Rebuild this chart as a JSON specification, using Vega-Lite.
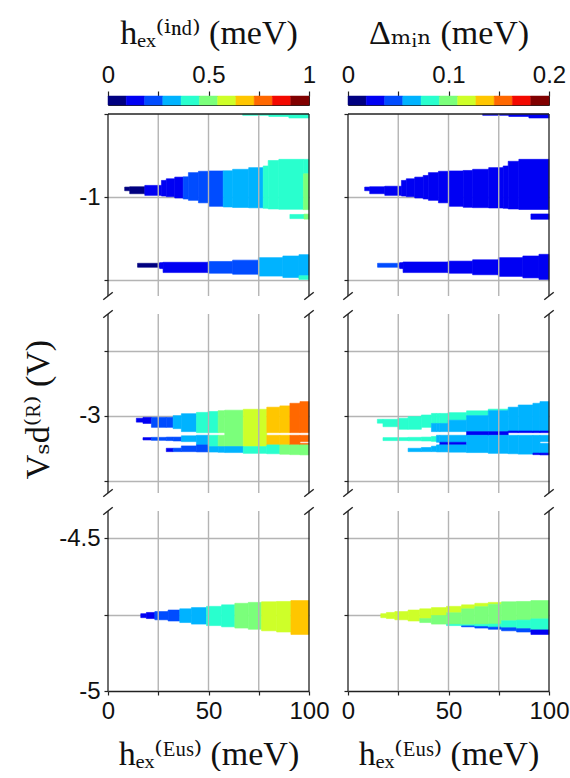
{
  "$schema": "https://vega.github.io/schema/vega-lite/v6.json",
  "background": "white",
  "padding": {"left": 20, "top": 15, "right": 5, "bottom": 0},
  "datasets": {
    "cbl": [
      {"lo": 0, "hi": 0.0909, "v": 0.045}, {"lo": 0.0909, "hi": 0.1818, "v": 0.136}, {"lo": 0.1818, "hi": 0.2727, "v": 0.227},
      {"lo": 0.2727, "hi": 0.3636, "v": 0.318}, {"lo": 0.3636, "hi": 0.4545, "v": 0.409}, {"lo": 0.4545, "hi": 0.5455, "v": 0.5},
      {"lo": 0.5455, "hi": 0.6364, "v": 0.591}, {"lo": 0.6364, "hi": 0.7273, "v": 0.682}, {"lo": 0.7273, "hi": 0.8182, "v": 0.773},
      {"lo": 0.8182, "hi": 0.9091, "v": 0.864}, {"lo": 0.9091, "hi": 1, "v": 0.955}
    ],
    "cbr": [
      {"lo": 0, "hi": 0.0182, "v": 0.009}, {"lo": 0.0182, "hi": 0.0364, "v": 0.027}, {"lo": 0.0364, "hi": 0.0545, "v": 0.045},
      {"lo": 0.0545, "hi": 0.0727, "v": 0.064}, {"lo": 0.0727, "hi": 0.0909, "v": 0.082}, {"lo": 0.0909, "hi": 0.1091, "v": 0.1},
      {"lo": 0.1091, "hi": 0.1273, "v": 0.118}, {"lo": 0.1273, "hi": 0.1455, "v": 0.136}, {"lo": 0.1455, "hi": 0.1636, "v": 0.155},
      {"lo": 0.1636, "hi": 0.1818, "v": 0.173}, {"lo": 0.1818, "hi": 0.2, "v": 0.191}
    ],
    "tl": [
      {"x1": 8.3, "x2": 10.8, "y1": -0.94, "y2": -0.962, "v": 0.045},
      {"x1": 10.8, "x2": 18.3, "y1": -0.938, "y2": -0.98, "v": 0.045},
      {"x1": 18.3, "x2": 26.6, "y1": -0.93, "y2": -0.99, "v": 0.136},
      {"x1": 26.6, "x2": 29, "y1": -0.9, "y2": -0.994, "v": 0.136},
      {"x1": 29, "x2": 33.2, "y1": -0.89, "y2": -0.998, "v": 0.136},
      {"x1": 33.2, "x2": 37.4, "y1": -0.88, "y2": -1.006, "v": 0.136},
      {"x1": 37.4, "x2": 40, "y1": -0.878, "y2": -1.012, "v": 0.227},
      {"x1": 40, "x2": 45, "y1": -0.853, "y2": -1.02, "v": 0.227},
      {"x1": 45, "x2": 50, "y1": -0.845, "y2": -1.035, "v": 0.227},
      {"x1": 50, "x2": 57.3, "y1": -0.843, "y2": -1.056, "v": 0.227},
      {"x1": 57.3, "x2": 62, "y1": -0.842, "y2": -1.06, "v": 0.318},
      {"x1": 62, "x2": 70, "y1": -0.833, "y2": -1.063, "v": 0.318},
      {"x1": 70, "x2": 77.2, "y1": -0.823, "y2": -1.065, "v": 0.318},
      {"x1": 77.2, "x2": 79.7, "y1": -0.813, "y2": -1.068, "v": 0.409},
      {"x1": 79.7, "x2": 85, "y1": -0.78, "y2": -1.072, "v": 0.409},
      {"x1": 85, "x2": 97.2, "y1": -0.773, "y2": -1.074, "v": 0.409},
      {"x1": 97.2, "x2": 100, "y1": -0.773, "y2": -0.86, "v": 0.409},
      {"x1": 97.2, "x2": 100, "y1": -0.86, "y2": -1.076, "v": 0.5},
      {"x1": 67, "x2": 80, "y1": -0.5, "y2": -0.508, "v": 0.409},
      {"x1": 80, "x2": 90, "y1": -0.5, "y2": -0.515, "v": 0.409},
      {"x1": 90, "x2": 100, "y1": -0.5, "y2": -0.524, "v": 0.409},
      {"x1": 90.5, "x2": 97.5, "y1": -1.105, "y2": -1.13, "v": 0.409},
      {"x1": 97.5, "x2": 100, "y1": -1.103, "y2": -1.133, "v": 0.5},
      {"x1": 14.7, "x2": 25.7, "y1": -1.399, "y2": -1.423, "v": 0.045},
      {"x1": 25.7, "x2": 27.4, "y1": -1.395, "y2": -1.431, "v": 0.136},
      {"x1": 27.4, "x2": 49.8, "y1": -1.393, "y2": -1.455, "v": 0.136},
      {"x1": 49.8, "x2": 62, "y1": -1.388, "y2": -1.459, "v": 0.227},
      {"x1": 62, "x2": 74.8, "y1": -1.38, "y2": -1.465, "v": 0.227},
      {"x1": 74.8, "x2": 87, "y1": -1.365, "y2": -1.476, "v": 0.318},
      {"x1": 87, "x2": 95, "y1": -1.355, "y2": -1.485, "v": 0.318},
      {"x1": 95, "x2": 100, "y1": -1.347, "y2": -1.474, "v": 0.318},
      {"x1": 95, "x2": 100, "y1": -1.474, "y2": -1.496, "v": 0.409}
    ],
    "tr": [
      {"x1": 8.3, "x2": 10.8, "y1": -0.94, "y2": -0.962, "v": 0.027},
      {"x1": 10.8, "x2": 18.3, "y1": -0.938, "y2": -0.98, "v": 0.027},
      {"x1": 18.3, "x2": 26.6, "y1": -0.935, "y2": -0.99, "v": 0.027},
      {"x1": 26.6, "x2": 29, "y1": -0.9, "y2": -0.994, "v": 0.027},
      {"x1": 29, "x2": 33.2, "y1": -0.89, "y2": -0.998, "v": 0.027},
      {"x1": 33.2, "x2": 37.4, "y1": -0.88, "y2": -1.006, "v": 0.027},
      {"x1": 37.4, "x2": 40, "y1": -0.87, "y2": -1.012, "v": 0.027},
      {"x1": 40, "x2": 45, "y1": -0.853, "y2": -1.02, "v": 0.027},
      {"x1": 45, "x2": 50, "y1": -0.845, "y2": -1.035, "v": 0.027},
      {"x1": 50, "x2": 57.3, "y1": -0.843, "y2": -1.056, "v": 0.027},
      {"x1": 57.3, "x2": 62, "y1": -0.84, "y2": -1.062, "v": 0.027},
      {"x1": 62, "x2": 70, "y1": -0.833, "y2": -1.064, "v": 0.027},
      {"x1": 70, "x2": 77.2, "y1": -0.823, "y2": -1.066, "v": 0.027},
      {"x1": 77.2, "x2": 79.7, "y1": -0.813, "y2": -1.068, "v": 0.027},
      {"x1": 79.7, "x2": 85, "y1": -0.785, "y2": -1.072, "v": 0.027},
      {"x1": 85, "x2": 100, "y1": -0.773, "y2": -1.075, "v": 0.027},
      {"x1": 67, "x2": 80, "y1": -0.5, "y2": -0.508, "v": 0.027},
      {"x1": 80, "x2": 90, "y1": -0.5, "y2": -0.515, "v": 0.027},
      {"x1": 90, "x2": 100, "y1": -0.5, "y2": -0.524, "v": 0.027},
      {"x1": 91, "x2": 100, "y1": -1.102, "y2": -1.134, "v": 0.027},
      {"x1": 14.7, "x2": 25.7, "y1": -1.399, "y2": -1.423, "v": 0.045},
      {"x1": 25.7, "x2": 27.4, "y1": -1.395, "y2": -1.431, "v": 0.027},
      {"x1": 27.4, "x2": 49.8, "y1": -1.391, "y2": -1.455, "v": 0.027},
      {"x1": 49.8, "x2": 62, "y1": -1.386, "y2": -1.459, "v": 0.027},
      {"x1": 62, "x2": 74.8, "y1": -1.378, "y2": -1.468, "v": 0.027},
      {"x1": 74.8, "x2": 87, "y1": -1.365, "y2": -1.478, "v": 0.027},
      {"x1": 87, "x2": 95, "y1": -1.355, "y2": -1.487, "v": 0.027},
      {"x1": 95, "x2": 100, "y1": -1.345, "y2": -1.496, "v": 0.027}
    ],
    "ml": [
      {"x1": 14.1, "x2": 17.4, "y1": -3.02, "y2": -3.05, "v": 0.136},
      {"x1": 17.4, "x2": 21.6, "y1": -3.013, "y2": -3.06, "v": 0.136},
      {"x1": 17.4, "x2": 21.6, "y1": -3.169, "y2": -3.187, "v": 0.136},
      {"x1": 21.6, "x2": 29, "y1": -3.013, "y2": -3.09, "v": 0.227},
      {"x1": 21.6, "x2": 29, "y1": -3.167, "y2": -3.19, "v": 0.227},
      {"x1": 29, "x2": 32.4, "y1": -3.013, "y2": -3.09, "v": 0.227},
      {"x1": 29, "x2": 32.4, "y1": -3.165, "y2": -3.192, "v": 0.227},
      {"x1": 29, "x2": 32.4, "y1": -3.251, "y2": -3.277, "v": 0.136},
      {"x1": 32.4, "x2": 36.5, "y1": -3.0, "y2": -3.1, "v": 0.318},
      {"x1": 32.4, "x2": 36.5, "y1": -3.165, "y2": -3.195, "v": 0.227},
      {"x1": 32.4, "x2": 36.5, "y1": -3.25, "y2": -3.277, "v": 0.227},
      {"x1": 36.5, "x2": 44, "y1": -2.985, "y2": -3.123, "v": 0.318},
      {"x1": 36.5, "x2": 44, "y1": -3.155, "y2": -3.2, "v": 0.318},
      {"x1": 36.5, "x2": 44, "y1": -3.233, "y2": -3.277, "v": 0.227},
      {"x1": 44, "x2": 49.8, "y1": -2.975, "y2": -3.131, "v": 0.409},
      {"x1": 44, "x2": 49.8, "y1": -3.151, "y2": -3.225, "v": 0.318},
      {"x1": 44, "x2": 49.8, "y1": -3.225, "y2": -3.279, "v": 0.227},
      {"x1": 49.8, "x2": 54.8, "y1": -2.968, "y2": -3.131, "v": 0.409},
      {"x1": 49.8, "x2": 54.8, "y1": -3.151, "y2": -3.238, "v": 0.409},
      {"x1": 49.8, "x2": 54.8, "y1": -3.238, "y2": -3.28, "v": 0.318},
      {"x1": 54.8, "x2": 58.1, "y1": -2.962, "y2": -3.131, "v": 0.5},
      {"x1": 54.8, "x2": 58.1, "y1": -3.151, "y2": -3.238, "v": 0.5},
      {"x1": 54.8, "x2": 58.1, "y1": -3.238, "y2": -3.282, "v": 0.318},
      {"x1": 58.1, "x2": 67.3, "y1": -2.958, "y2": -3.238, "v": 0.5},
      {"x1": 58.1, "x2": 67.3, "y1": -3.238, "y2": -3.284, "v": 0.318},
      {"x1": 67.3, "x2": 79, "y1": -2.951, "y2": -3.238, "v": 0.591},
      {"x1": 67.3, "x2": 79, "y1": -3.238, "y2": -3.29, "v": 0.409},
      {"x1": 79, "x2": 85.5, "y1": -2.935, "y2": -3.131, "v": 0.682},
      {"x1": 79, "x2": 85.5, "y1": -3.151, "y2": -3.225, "v": 0.682},
      {"x1": 79, "x2": 85.5, "y1": -3.225, "y2": -3.293, "v": 0.409},
      {"x1": 85.5, "x2": 90.5, "y1": -2.925, "y2": -3.131, "v": 0.682},
      {"x1": 85.5, "x2": 90.5, "y1": -3.151, "y2": -3.225, "v": 0.682},
      {"x1": 85.5, "x2": 90.5, "y1": -3.225, "y2": -3.297, "v": 0.5},
      {"x1": 90.5, "x2": 95.5, "y1": -2.905, "y2": -3.131, "v": 0.773},
      {"x1": 90.5, "x2": 95.5, "y1": -3.151, "y2": -3.225, "v": 0.773},
      {"x1": 90.5, "x2": 95.5, "y1": -3.225, "y2": -3.3, "v": 0.5},
      {"x1": 95.5, "x2": 100, "y1": -2.892, "y2": -3.131, "v": 0.773},
      {"x1": 95.5, "x2": 100, "y1": -3.151, "y2": -3.2, "v": 0.773},
      {"x1": 95.5, "x2": 100, "y1": -3.213, "y2": -3.225, "v": 0.773},
      {"x1": 95.5, "x2": 100, "y1": -3.225, "y2": -3.302, "v": 0.5}
    ],
    "mr": [
      {"x1": 14.6, "x2": 17.4, "y1": -3.028, "y2": -3.058, "v": 0.082},
      {"x1": 17.4, "x2": 24.9, "y1": -3.028, "y2": -3.085, "v": 0.082},
      {"x1": 17.4, "x2": 24.9, "y1": -3.169, "y2": -3.192, "v": 0.082},
      {"x1": 24.9, "x2": 29.9, "y1": -3.02, "y2": -3.105, "v": 0.082},
      {"x1": 24.9, "x2": 29.9, "y1": -3.169, "y2": -3.192, "v": 0.082},
      {"x1": 29.9, "x2": 36.5, "y1": -3.007, "y2": -3.105, "v": 0.082},
      {"x1": 29.9, "x2": 36.5, "y1": -3.167, "y2": -3.193, "v": 0.082},
      {"x1": 29.9, "x2": 36.5, "y1": -3.251, "y2": -3.277, "v": 0.064},
      {"x1": 36.5, "x2": 41.5, "y1": -2.995, "y2": -3.09, "v": 0.082},
      {"x1": 36.5, "x2": 41.5, "y1": -3.165, "y2": -3.195, "v": 0.082},
      {"x1": 36.5, "x2": 41.5, "y1": -3.245, "y2": -3.277, "v": 0.064},
      {"x1": 41.5, "x2": 44, "y1": -2.983, "y2": -3.06, "v": 0.082},
      {"x1": 41.5, "x2": 44, "y1": -3.06, "y2": -3.123, "v": 0.064},
      {"x1": 41.5, "x2": 44, "y1": -3.16, "y2": -3.198, "v": 0.082},
      {"x1": 41.5, "x2": 44, "y1": -3.235, "y2": -3.277, "v": 0.064},
      {"x1": 44, "x2": 45.7, "y1": -2.983, "y2": -3.06, "v": 0.082},
      {"x1": 44, "x2": 45.7, "y1": -3.06, "y2": -3.123, "v": 0.064},
      {"x1": 44, "x2": 45.7, "y1": -3.151, "y2": -3.205, "v": 0.064},
      {"x1": 44, "x2": 45.7, "y1": -3.225, "y2": -3.279, "v": 0.064},
      {"x1": 45.7, "x2": 49.8, "y1": -2.983, "y2": -3.06, "v": 0.082},
      {"x1": 45.7, "x2": 49.8, "y1": -3.06, "y2": -3.123, "v": 0.064},
      {"x1": 45.7, "x2": 49.8, "y1": -3.151, "y2": -3.205, "v": 0.064},
      {"x1": 45.7, "x2": 49.8, "y1": -3.205, "y2": -3.225, "v": 0.027},
      {"x1": 45.7, "x2": 49.8, "y1": -3.225, "y2": -3.279, "v": 0.064},
      {"x1": 49.8, "x2": 59, "y1": -2.977, "y2": -3.035, "v": 0.082},
      {"x1": 49.8, "x2": 59, "y1": -3.035, "y2": -3.123, "v": 0.064},
      {"x1": 49.8, "x2": 59, "y1": -3.151, "y2": -3.205, "v": 0.064},
      {"x1": 49.8, "x2": 59, "y1": -3.205, "y2": -3.225, "v": 0.027},
      {"x1": 49.8, "x2": 59, "y1": -3.225, "y2": -3.281, "v": 0.064},
      {"x1": 59, "x2": 69.8, "y1": -2.963, "y2": -3.0, "v": 0.082},
      {"x1": 59, "x2": 69.8, "y1": -3.0, "y2": -3.123, "v": 0.064},
      {"x1": 59, "x2": 69.8, "y1": -3.123, "y2": -3.151, "v": 0.027},
      {"x1": 59, "x2": 69.8, "y1": -3.151, "y2": -3.284, "v": 0.064},
      {"x1": 69.8, "x2": 79.7, "y1": -2.95, "y2": -2.962, "v": 0.082},
      {"x1": 69.8, "x2": 79.7, "y1": -2.962, "y2": -3.123, "v": 0.064},
      {"x1": 69.8, "x2": 79.7, "y1": -3.123, "y2": -3.151, "v": 0.027},
      {"x1": 69.8, "x2": 79.7, "y1": -3.151, "y2": -3.29, "v": 0.064},
      {"x1": 79.7, "x2": 84.7, "y1": -2.935, "y2": -3.118, "v": 0.064},
      {"x1": 79.7, "x2": 84.7, "y1": -3.118, "y2": -3.131, "v": 0.027},
      {"x1": 79.7, "x2": 84.7, "y1": -3.151, "y2": -3.293, "v": 0.064},
      {"x1": 84.7, "x2": 92, "y1": -2.918, "y2": -3.118, "v": 0.064},
      {"x1": 84.7, "x2": 92, "y1": -3.118, "y2": -3.131, "v": 0.027},
      {"x1": 84.7, "x2": 92, "y1": -3.151, "y2": -3.296, "v": 0.064},
      {"x1": 92, "x2": 95.5, "y1": -2.905, "y2": -3.118, "v": 0.064},
      {"x1": 92, "x2": 95.5, "y1": -3.118, "y2": -3.131, "v": 0.027},
      {"x1": 92, "x2": 95.5, "y1": -3.151, "y2": -3.288, "v": 0.064},
      {"x1": 92, "x2": 95.5, "y1": -3.288, "y2": -3.3, "v": 0.027},
      {"x1": 95.5, "x2": 100, "y1": -2.892, "y2": -3.118, "v": 0.064},
      {"x1": 95.5, "x2": 100, "y1": -3.118, "y2": -3.131, "v": 0.027},
      {"x1": 95.5, "x2": 100, "y1": -3.151, "y2": -3.2, "v": 0.064},
      {"x1": 95.5, "x2": 100, "y1": -3.213, "y2": -3.288, "v": 0.064},
      {"x1": 95.5, "x2": 100, "y1": -3.288, "y2": -3.302, "v": 0.027}
    ],
    "bl": [
      {"x1": 16.3, "x2": 19.1, "y1": -4.747, "y2": -4.76, "v": 0.136},
      {"x1": 19.1, "x2": 23.3, "y1": -4.743, "y2": -4.763, "v": 0.136},
      {"x1": 23.3, "x2": 29.9, "y1": -4.74, "y2": -4.767, "v": 0.227},
      {"x1": 29.9, "x2": 35.7, "y1": -4.735, "y2": -4.771, "v": 0.227},
      {"x1": 35.7, "x2": 41.5, "y1": -4.731, "y2": -4.776, "v": 0.318},
      {"x1": 41.5, "x2": 49, "y1": -4.727, "y2": -4.781, "v": 0.318},
      {"x1": 49, "x2": 56.5, "y1": -4.723, "y2": -4.786, "v": 0.409},
      {"x1": 56.5, "x2": 63.1, "y1": -4.718, "y2": -4.79, "v": 0.409},
      {"x1": 63.1, "x2": 69.8, "y1": -4.713, "y2": -4.794, "v": 0.5},
      {"x1": 69.8, "x2": 76.4, "y1": -4.71, "y2": -4.798, "v": 0.5},
      {"x1": 76.4, "x2": 83.9, "y1": -4.708, "y2": -4.803, "v": 0.591},
      {"x1": 83.9, "x2": 91, "y1": -4.707, "y2": -4.807, "v": 0.591},
      {"x1": 91, "x2": 100, "y1": -4.704, "y2": -4.815, "v": 0.682}
    ],
    "br": [
      {"x1": 16.3, "x2": 19.1, "y1": -4.747, "y2": -4.76, "v": 0.118},
      {"x1": 19.1, "x2": 23.3, "y1": -4.743, "y2": -4.763, "v": 0.118},
      {"x1": 23.3, "x2": 29.9, "y1": -4.74, "y2": -4.767, "v": 0.118},
      {"x1": 29.9, "x2": 35.7, "y1": -4.735, "y2": -4.771, "v": 0.118},
      {"x1": 35.7, "x2": 41.5, "y1": -4.731, "y2": -4.763, "v": 0.118},
      {"x1": 35.7, "x2": 41.5, "y1": -4.763, "y2": -4.776, "v": 0.1},
      {"x1": 41.5, "x2": 49, "y1": -4.727, "y2": -4.753, "v": 0.118},
      {"x1": 41.5, "x2": 49, "y1": -4.753, "y2": -4.781, "v": 0.1},
      {"x1": 49, "x2": 56.5, "y1": -4.723, "y2": -4.744, "v": 0.118},
      {"x1": 49, "x2": 56.5, "y1": -4.744, "y2": -4.782, "v": 0.1},
      {"x1": 49, "x2": 56.5, "y1": -4.782, "y2": -4.786, "v": 0.082},
      {"x1": 56.5, "x2": 63.1, "y1": -4.718, "y2": -4.731, "v": 0.118},
      {"x1": 56.5, "x2": 63.1, "y1": -4.731, "y2": -4.783, "v": 0.1},
      {"x1": 56.5, "x2": 63.1, "y1": -4.783, "y2": -4.787, "v": 0.082},
      {"x1": 56.5, "x2": 63.1, "y1": -4.787, "y2": -4.79, "v": 0.045},
      {"x1": 63.1, "x2": 69.8, "y1": -4.713, "y2": -4.724, "v": 0.118},
      {"x1": 63.1, "x2": 69.8, "y1": -4.724, "y2": -4.782, "v": 0.1},
      {"x1": 63.1, "x2": 69.8, "y1": -4.782, "y2": -4.789, "v": 0.082},
      {"x1": 63.1, "x2": 69.8, "y1": -4.789, "y2": -4.794, "v": 0.045},
      {"x1": 69.8, "x2": 76.4, "y1": -4.71, "y2": -4.716, "v": 0.118},
      {"x1": 69.8, "x2": 76.4, "y1": -4.716, "y2": -4.781, "v": 0.1},
      {"x1": 69.8, "x2": 76.4, "y1": -4.781, "y2": -4.791, "v": 0.082},
      {"x1": 69.8, "x2": 76.4, "y1": -4.791, "y2": -4.798, "v": 0.045},
      {"x1": 76.4, "x2": 83.9, "y1": -4.708, "y2": -4.77, "v": 0.1},
      {"x1": 76.4, "x2": 83.9, "y1": -4.77, "y2": -4.793, "v": 0.082},
      {"x1": 76.4, "x2": 83.9, "y1": -4.793, "y2": -4.803, "v": 0.045},
      {"x1": 83.9, "x2": 91, "y1": -4.707, "y2": -4.768, "v": 0.1},
      {"x1": 83.9, "x2": 91, "y1": -4.768, "y2": -4.796, "v": 0.082},
      {"x1": 83.9, "x2": 91, "y1": -4.796, "y2": -4.807, "v": 0.045},
      {"x1": 91, "x2": 100, "y1": -4.704, "y2": -4.764, "v": 0.1},
      {"x1": 91, "x2": 100, "y1": -4.764, "y2": -4.8, "v": 0.082},
      {"x1": 91, "x2": 100, "y1": -4.8, "y2": -4.815, "v": 0.027}
    ],
    "edges": [{"x": 0}, {"x": 100}],
    "gx": [{"x": 25}, {"x": 50}, {"x": 75}]
  },
  "columns": 2,
  "spacing": {"row": 9, "column": 39},
  "bounds": "flush",
  "resolve": {"scale": {"color": "independent", "stroke": "independent"}},
  "concat": [
    {
      "width": 201, "height": 9,
      "view": {"stroke": "#222222", "strokeWidth": 1},
      "data": {"name": "cbl"},
      "mark": {"type": "rect", "strokeWidth": 0.5},
      "encoding": {
        "x": {"field": "lo", "type": "quantitative", "scale": {"domain": [0, 1], "nice": false, "zero": false},
              "axis": {"orient": "top", "values": [0, 0.25, 0.5, 0.75, 1], "format": "~g", "labelExpr": "datum.value == 0.25 || datum.value == 0.75 ? '' : datum.label", "domain": false, "grid": false, "tickSize": 5, "labelPadding": 4, "title": "hₑₓ⁽ⁱⁿᵈ⁾ (meV)", "titlePadding": 13}},
        "x2": {"field": "hi"},
        "color": {"field": "v", "type": "quantitative", "legend": null, "scale": {"type": "quantize", "domain": [0, 1], "nice": false, "range": ["#000080", "#0000f3", "#004cff", "#00b3ff", "#29ffce", "#7bff7b", "#ceff29", "#ffc600", "#ff6800", "#f30900", "#800000"]}},
        "stroke": {"field": "v", "type": "quantitative", "legend": null, "scale": {"type": "quantize", "domain": [0, 1], "nice": false, "range": ["#000080", "#0000f3", "#004cff", "#00b3ff", "#29ffce", "#7bff7b", "#ceff29", "#ffc600", "#ff6800", "#f30900", "#800000"]}}
      }
    },
    {
      "width": 201, "height": 9,
      "view": {"stroke": "#222222", "strokeWidth": 1},
      "data": {"name": "cbr"},
      "mark": {"type": "rect", "strokeWidth": 0.5},
      "encoding": {
        "x": {"field": "lo", "type": "quantitative", "scale": {"domain": [0, 0.2], "nice": false, "zero": false},
              "axis": {"orient": "top", "values": [0, 0.05, 0.1, 0.15, 0.2], "format": "~g", "labelExpr": "datum.value == 0.05 || datum.value == 0.15 ? '' : datum.label", "domain": false, "grid": false, "tickSize": 5, "labelPadding": 4, "title": "Δₘᵢₙ (meV)", "titlePadding": 13}},
        "x2": {"field": "hi"},
        "color": {"field": "v", "type": "quantitative", "legend": null, "scale": {"type": "quantize", "domain": [0, 0.2], "nice": false, "range": ["#000080", "#0000f3", "#004cff", "#00b3ff", "#29ffce", "#7bff7b", "#ceff29", "#ffc600", "#ff6800", "#f30900", "#800000"]}},
        "stroke": {"field": "v", "type": "quantitative", "legend": null, "scale": {"type": "quantize", "domain": [0, 0.2], "nice": false, "range": ["#000080", "#0000f3", "#004cff", "#00b3ff", "#29ffce", "#7bff7b", "#ceff29", "#ffc600", "#ff6800", "#f30900", "#800000"]}}
      }
    },
    {
      "width": 201, "height": 182,
      "layer": [
        {
          "data": {"name": "tl"},
          "mark": {"type": "rect", "strokeWidth": 0.6},
          "encoding": {
            "x": {"field": "x1", "type": "quantitative", "scale": {"domain": [0, 100], "nice": false, "zero": false}, "axis": null},
            "x2": {"field": "x2"},
            "y": {"field": "y1", "type": "quantitative", "scale": {"domain": [-1.596, -0.5], "nice": false, "zero": false}, "axis": {"values": [-0.5, -1, -1.5], "labelExpr": "datum.value == -1 ? '-1' : ''", "domain": false, "grid": true, "gridOpacity": {"condition": {"test": "datum.value == -0.5", "value": 0}, "value": 1}, "title": null}},
            "y2": {"field": "y2"},
            "color": {"field": "v", "type": "quantitative", "legend": null, "scale": {"type": "quantize", "domain": [0, 1], "nice": false, "range": ["#000080", "#0000f3", "#004cff", "#00b3ff", "#29ffce", "#7bff7b", "#ceff29", "#ffc600", "#ff6800", "#f30900", "#800000"]}},
            "stroke": {"field": "v", "type": "quantitative", "legend": null, "scale": {"type": "quantize", "domain": [0, 1], "nice": false, "range": ["#000080", "#0000f3", "#004cff", "#00b3ff", "#29ffce", "#7bff7b", "#ceff29", "#ffc600", "#ff6800", "#f30900", "#800000"]}}
          }
        },
        {"data": {"name": "gx"}, "mark": {"type": "rule", "color": "#b4b4b4", "strokeWidth": 1.4}, "encoding": {"x": {"field": "x", "type": "quantitative"}, "y": {"datum": -0.5}, "y2": {"datum": -1.596}}},
        {"data": {"name": "edges"}, "mark": {"type": "rule", "color": "#222222", "strokeWidth": 1.3}, "encoding": {"x": {"field": "x", "type": "quantitative"}, "y": {"datum": -0.5}, "y2": {"datum": -1.596}}},
        {"data": {"values": [{}]}, "mark": {"type": "rule", "color": "#222222", "strokeWidth": 1.3}, "encoding": {"y": {"datum": -0.5}}},
        {"data": {"name": "edges"}, "mark": {"type": "point", "shape": "M-1,0.8L1,-0.8", "filled": false, "stroke": "#222222", "strokeWidth": 1.4, "size": 90, "opacity": 1}, "encoding": {"x": {"field": "x", "type": "quantitative"}, "y": {"datum": -1.596}}}
      ]
    },
    {
      "width": 201, "height": 182,
      "layer": [
        {
          "data": {"name": "tr"},
          "mark": {"type": "rect", "strokeWidth": 0.6},
          "encoding": {
            "x": {"field": "x1", "type": "quantitative", "scale": {"domain": [0, 100], "nice": false, "zero": false}, "axis": null},
            "x2": {"field": "x2"},
            "y": {"field": "y1", "type": "quantitative", "scale": {"domain": [-1.596, -0.5], "nice": false, "zero": false}, "axis": {"values": [-0.5, -1, -1.5], "labels": false, "domain": false, "grid": true, "gridOpacity": {"condition": {"test": "datum.value == -0.5", "value": 0}, "value": 1}, "title": null}},
            "y2": {"field": "y2"},
            "color": {"field": "v", "type": "quantitative", "legend": null, "scale": {"type": "quantize", "domain": [0, 0.2], "nice": false, "range": ["#000080", "#0000f3", "#004cff", "#00b3ff", "#29ffce", "#7bff7b", "#ceff29", "#ffc600", "#ff6800", "#f30900", "#800000"]}},
            "stroke": {"field": "v", "type": "quantitative", "legend": null, "scale": {"type": "quantize", "domain": [0, 0.2], "nice": false, "range": ["#000080", "#0000f3", "#004cff", "#00b3ff", "#29ffce", "#7bff7b", "#ceff29", "#ffc600", "#ff6800", "#f30900", "#800000"]}}
          }
        },
        {"data": {"name": "gx"}, "mark": {"type": "rule", "color": "#b4b4b4", "strokeWidth": 1.4}, "encoding": {"x": {"field": "x", "type": "quantitative"}, "y": {"datum": -0.5}, "y2": {"datum": -1.596}}},
        {"data": {"name": "edges"}, "mark": {"type": "rule", "color": "#222222", "strokeWidth": 1.3}, "encoding": {"x": {"field": "x", "type": "quantitative"}, "y": {"datum": -0.5}, "y2": {"datum": -1.596}}},
        {"data": {"values": [{}]}, "mark": {"type": "rule", "color": "#222222", "strokeWidth": 1.3}, "encoding": {"y": {"datum": -0.5}}},
        {"data": {"name": "edges"}, "mark": {"type": "point", "shape": "M-1,0.8L1,-0.8", "filled": false, "stroke": "#222222", "strokeWidth": 1.4, "size": 90, "opacity": 1}, "encoding": {"x": {"field": "x", "type": "quantitative"}, "y": {"datum": -1.596}}}
      ]
    },
    {
      "width": 201, "height": 188,
      "layer": [
        {
          "data": {"name": "ml"},
          "mark": {"type": "rect", "strokeWidth": 0.6},
          "encoding": {
            "x": {"field": "x1", "type": "quantitative", "scale": {"domain": [0, 100], "nice": false, "zero": false}, "axis": null},
            "x2": {"field": "x2"},
            "y": {"field": "y1", "type": "quantitative", "scale": {"domain": [-3.595, -2.149], "nice": false, "zero": false}, "axis": {"values": [-2.5, -3, -3.5], "labelExpr": "datum.value == -3 ? '-3' : ''", "domain": false, "grid": true, "title": "Vₛd⁽ᴿ⁾ (V)", "titleX": -70, "titleY": 104, "titleAngle": -90, "titleAlign": "center", "titleBaseline": "middle"}},
            "y2": {"field": "y2"},
            "color": {"field": "v", "type": "quantitative", "legend": null, "scale": {"type": "quantize", "domain": [0, 1], "nice": false, "range": ["#000080", "#0000f3", "#004cff", "#00b3ff", "#29ffce", "#7bff7b", "#ceff29", "#ffc600", "#ff6800", "#f30900", "#800000"]}},
            "stroke": {"field": "v", "type": "quantitative", "legend": null, "scale": {"type": "quantize", "domain": [0, 1], "nice": false, "range": ["#000080", "#0000f3", "#004cff", "#00b3ff", "#29ffce", "#7bff7b", "#ceff29", "#ffc600", "#ff6800", "#f30900", "#800000"]}}
          }
        },
        {"data": {"name": "gx"}, "mark": {"type": "rule", "color": "#b4b4b4", "strokeWidth": 1.4}, "encoding": {"x": {"field": "x", "type": "quantitative"}, "y": {"datum": -2.218}, "y2": {"datum": -3.595}}},
        {"data": {"name": "edges"}, "mark": {"type": "rule", "color": "#222222", "strokeWidth": 1.3}, "encoding": {"x": {"field": "x", "type": "quantitative"}, "y": {"datum": -2.218}, "y2": {"datum": -3.595}}},
        {"data": {"name": "edges"}, "mark": {"type": "point", "shape": "M-1,0.8L1,-0.8", "filled": false, "stroke": "#222222", "strokeWidth": 1.4, "size": 90, "opacity": 1}, "encoding": {"x": {"field": "x", "type": "quantitative"}, "y": {"datum": -2.218}}},
        {"data": {"name": "edges"}, "mark": {"type": "point", "shape": "M-1,0.8L1,-0.8", "filled": false, "stroke": "#222222", "strokeWidth": 1.4, "size": 90, "opacity": 1}, "encoding": {"x": {"field": "x", "type": "quantitative"}, "y": {"datum": -3.595}}}
      ]
    },
    {
      "width": 201, "height": 188,
      "layer": [
        {
          "data": {"name": "mr"},
          "mark": {"type": "rect", "strokeWidth": 0.6},
          "encoding": {
            "x": {"field": "x1", "type": "quantitative", "scale": {"domain": [0, 100], "nice": false, "zero": false}, "axis": null},
            "x2": {"field": "x2"},
            "y": {"field": "y1", "type": "quantitative", "scale": {"domain": [-3.595, -2.149], "nice": false, "zero": false}, "axis": {"values": [-2.5, -3, -3.5], "labels": false, "domain": false, "grid": true, "title": null}},
            "y2": {"field": "y2"},
            "color": {"field": "v", "type": "quantitative", "legend": null, "scale": {"type": "quantize", "domain": [0, 0.2], "nice": false, "range": ["#000080", "#0000f3", "#004cff", "#00b3ff", "#29ffce", "#7bff7b", "#ceff29", "#ffc600", "#ff6800", "#f30900", "#800000"]}},
            "stroke": {"field": "v", "type": "quantitative", "legend": null, "scale": {"type": "quantize", "domain": [0, 0.2], "nice": false, "range": ["#000080", "#0000f3", "#004cff", "#00b3ff", "#29ffce", "#7bff7b", "#ceff29", "#ffc600", "#ff6800", "#f30900", "#800000"]}}
          }
        },
        {"data": {"name": "gx"}, "mark": {"type": "rule", "color": "#b4b4b4", "strokeWidth": 1.4}, "encoding": {"x": {"field": "x", "type": "quantitative"}, "y": {"datum": -2.218}, "y2": {"datum": -3.595}}},
        {"data": {"name": "edges"}, "mark": {"type": "rule", "color": "#222222", "strokeWidth": 1.3}, "encoding": {"x": {"field": "x", "type": "quantitative"}, "y": {"datum": -2.218}, "y2": {"datum": -3.595}}},
        {"data": {"name": "edges"}, "mark": {"type": "point", "shape": "M-1,0.8L1,-0.8", "filled": false, "stroke": "#222222", "strokeWidth": 1.4, "size": 90, "opacity": 1}, "encoding": {"x": {"field": "x", "type": "quantitative"}, "y": {"datum": -2.218}}},
        {"data": {"name": "edges"}, "mark": {"type": "point", "shape": "M-1,0.8L1,-0.8", "filled": false, "stroke": "#222222", "strokeWidth": 1.4, "size": 90, "opacity": 1}, "encoding": {"x": {"field": "x", "type": "quantitative"}, "y": {"datum": -3.595}}}
      ]
    },
    {
      "width": 201, "height": 189,
      "layer": [
        {
          "data": {"name": "bl"},
          "mark": {"type": "rect", "strokeWidth": 0.6},
          "encoding": {
            "x": {"field": "x1", "type": "quantitative", "scale": {"domain": [0, 100], "nice": false, "zero": false}, "axis": {"values": [0, 25, 50, 75, 100], "format": "d", "labelExpr": "datum.value == 25 || datum.value == 75 ? '' : datum.label", "grid": false, "labelPadding": 4, "title": "hₑₓ⁽ᴱᵘˢ⁾ (meV)", "titlePadding": 14}},
            "x2": {"field": "x2"},
            "y": {"field": "y1", "type": "quantitative", "scale": {"domain": [-5, -4.3815], "nice": false, "zero": false}, "axis": {"values": [-4.5, -4.75, -5], "labelExpr": "datum.value == -4.5 ? '-4.5' : (datum.value == -5 ? '-5' : '')", "domain": false, "grid": true, "gridOpacity": {"condition": {"test": "datum.value == -5", "value": 0}, "value": 1}, "title": null}},
            "y2": {"field": "y2"},
            "color": {"field": "v", "type": "quantitative", "legend": null, "scale": {"type": "quantize", "domain": [0, 1], "nice": false, "range": ["#000080", "#0000f3", "#004cff", "#00b3ff", "#29ffce", "#7bff7b", "#ceff29", "#ffc600", "#ff6800", "#f30900", "#800000"]}},
            "stroke": {"field": "v", "type": "quantitative", "legend": null, "scale": {"type": "quantize", "domain": [0, 1], "nice": false, "range": ["#000080", "#0000f3", "#004cff", "#00b3ff", "#29ffce", "#7bff7b", "#ceff29", "#ffc600", "#ff6800", "#f30900", "#800000"]}}
          }
        },
        {"data": {"name": "gx"}, "mark": {"type": "rule", "color": "#b4b4b4", "strokeWidth": 1.4}, "encoding": {"x": {"field": "x", "type": "quantitative"}, "y": {"datum": -4.411}, "y2": {"datum": -5}}},
        {"data": {"name": "edges"}, "mark": {"type": "rule", "color": "#222222", "strokeWidth": 1.3}, "encoding": {"x": {"field": "x", "type": "quantitative"}, "y": {"datum": -4.411}, "y2": {"datum": -5}}},
        {"data": {"name": "edges"}, "mark": {"type": "point", "shape": "M-1,0.8L1,-0.8", "filled": false, "stroke": "#222222", "strokeWidth": 1.4, "size": 90, "opacity": 1}, "encoding": {"x": {"field": "x", "type": "quantitative"}, "y": {"datum": -4.411}}}
      ]
    },
    {
      "width": 201, "height": 189,
      "layer": [
        {
          "data": {"name": "br"},
          "mark": {"type": "rect", "strokeWidth": 0.6},
          "encoding": {
            "x": {"field": "x1", "type": "quantitative", "scale": {"domain": [0, 100], "nice": false, "zero": false}, "axis": {"values": [0, 25, 50, 75, 100], "format": "d", "labelExpr": "datum.value == 25 || datum.value == 75 ? '' : datum.label", "grid": false, "labelPadding": 4, "title": "hₑₓ⁽ᴱᵘˢ⁾ (meV)", "titlePadding": 14}},
            "x2": {"field": "x2"},
            "y": {"field": "y1", "type": "quantitative", "scale": {"domain": [-5, -4.3815], "nice": false, "zero": false}, "axis": {"values": [-4.5, -4.75, -5], "labels": false, "domain": false, "grid": true, "gridOpacity": {"condition": {"test": "datum.value == -5", "value": 0}, "value": 1}, "title": null}},
            "y2": {"field": "y2"},
            "color": {"field": "v", "type": "quantitative", "legend": null, "scale": {"type": "quantize", "domain": [0, 0.2], "nice": false, "range": ["#000080", "#0000f3", "#004cff", "#00b3ff", "#29ffce", "#7bff7b", "#ceff29", "#ffc600", "#ff6800", "#f30900", "#800000"]}},
            "stroke": {"field": "v", "type": "quantitative", "legend": null, "scale": {"type": "quantize", "domain": [0, 0.2], "nice": false, "range": ["#000080", "#0000f3", "#004cff", "#00b3ff", "#29ffce", "#7bff7b", "#ceff29", "#ffc600", "#ff6800", "#f30900", "#800000"]}}
          }
        },
        {"data": {"name": "gx"}, "mark": {"type": "rule", "color": "#b4b4b4", "strokeWidth": 1.4}, "encoding": {"x": {"field": "x", "type": "quantitative"}, "y": {"datum": -4.411}, "y2": {"datum": -5}}},
        {"data": {"name": "edges"}, "mark": {"type": "rule", "color": "#222222", "strokeWidth": 1.3}, "encoding": {"x": {"field": "x", "type": "quantitative"}, "y": {"datum": -4.411}, "y2": {"datum": -5}}},
        {"data": {"name": "edges"}, "mark": {"type": "point", "shape": "M-1,0.8L1,-0.8", "filled": false, "stroke": "#222222", "strokeWidth": 1.4, "size": 90, "opacity": 1}, "encoding": {"x": {"field": "x", "type": "quantitative"}, "y": {"datum": -4.411}}}
      ]
    }
  ],
  "config": {
    "view": {"stroke": null},
    "axis": {
      "zindex": 1,
      "gridColor": "#b4b4b4",
      "gridWidth": 1.4,
      "domainColor": "#222222",
      "domainWidth": 1.3,
      "tickColor": "#222222",
      "tickWidth": 1.2,
      "tickSize": 4,
      "labelFont": "Liberation Sans",
      "labelFontSize": 24,
      "labelColor": "#111111",
      "labelPadding": 4,
      "labelFlush": false,
      "labelOverlap": false,
      "titleFont": "Liberation Serif, DejaVu Serif, serif",
      "titleFontSize": 34,
      "titleFontWeight": "normal",
      "titleColor": "#111111"
    }
  }
}
